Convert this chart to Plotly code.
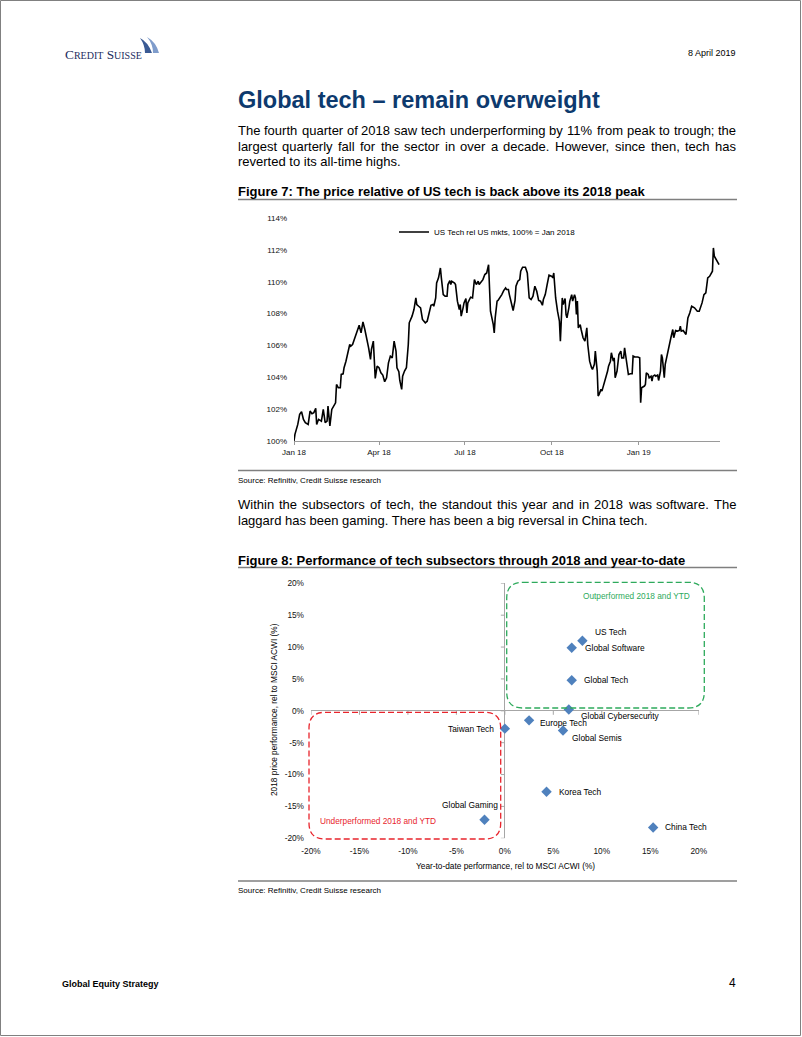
import plotly.graph_objects as go
import pandas as pd

W, H = 802, 1037
FONT = "Liberation Sans, Arial, Helvetica, sans-serif"


def px(x):
    return x / W


def py(y):
    return 1 - y / H


# ------------------------------------------------------------------
# Figure 7 data: US Tech relative to US markets (100% = Jan 2018)
# ------------------------------------------------------------------
fig7_start = "2018-01-01"
fig7_end = "2019-03-28"
days_since_start = [
    0, 1, 4, 6, 8, 10, 12, 15, 17, 19,
    21, 23, 24, 26, 29, 31, 33, 35, 36, 38,
    40, 42, 44, 45, 47, 49, 50, 52, 53, 55,
    57, 59, 60, 62, 65, 67, 69, 71, 72, 73,
    75, 77, 79, 81, 82, 84, 85, 86, 88, 90,
    92, 94, 96, 98, 100, 102, 104, 106, 108, 109,
    111, 112, 114, 115, 117, 119, 121, 122, 125, 127,
    129, 130, 132, 134, 136, 139, 141, 143, 145, 147,
    148, 150, 151, 153, 155, 156, 158, 160, 162, 163,
    165, 166, 167, 170, 171, 173, 175, 176, 177, 179,
    180, 182, 183, 184, 186, 187, 189, 191, 193, 195,
    196, 199, 200, 202, 204, 206, 207, 208, 211, 212,
    213, 215, 216, 218, 220, 222, 224, 225, 227, 228,
    230, 232, 234, 235, 237, 239, 240, 242, 245, 247,
    249, 251, 253, 254, 255, 257, 259, 261, 263, 264,
    266, 268, 270, 273, 274, 275, 277, 279, 281, 282,
    284, 285, 287, 288, 289, 291, 292, 294, 295, 297,
    298, 299, 300, 301, 303, 304, 306, 308, 310, 311,
    313, 315, 316, 318, 319, 321, 322, 323, 325, 326,
    328, 329, 330, 332, 333, 335, 336, 338, 339, 340,
    342, 343, 344, 346, 347, 349, 350, 351, 354, 356,
    358, 359, 361, 364, 366, 367, 368, 371, 372, 373,
    375, 376, 378, 379, 380, 382, 383, 385, 386, 388,
    389, 390, 392, 393, 395, 397, 399, 401, 402, 404,
    406, 408, 409, 410, 412, 415, 417, 419, 421, 424,
    427, 429, 432, 434, 436, 438, 440, 443, 444, 445,
    447, 450,
]
us_tech_rel = [
    100.00, 100.42, 101.04, 101.67, 101.84, 101.36, 101.15, 101.04, 101.88, 101.71,
    101.78, 102.05, 101.04, 101.36, 101.25, 101.98, 101.15, 101.25, 102.19, 100.94,
    101.98, 102.19, 102.40, 103.55, 103.34, 103.34, 104.18, 104.22, 104.60, 105.01,
    105.64, 106.06, 105.95, 106.06, 106.58, 107.00, 107.27, 106.79, 107.31, 107.48,
    107.00, 106.48, 105.85, 105.12, 105.75, 106.27, 105.01, 103.93, 104.70, 104.60,
    104.28, 104.14, 103.72, 103.97, 104.91, 105.33, 105.22, 106.27, 105.64, 104.60,
    104.35, 103.80, 103.24, 104.07, 104.39, 104.60, 106.06, 107.42, 107.84, 108.25,
    108.98, 108.57, 108.46, 108.36, 107.63, 107.42, 107.52, 108.04, 108.52, 108.57,
    108.46, 108.98, 109.92, 110.24, 110.86, 110.24, 109.19, 109.09, 109.09, 109.82,
    110.07, 109.82, 110.03, 109.92, 109.82, 108.78, 108.25, 108.57, 107.84, 108.36,
    108.67, 108.94, 108.04, 108.67, 108.98, 109.03, 108.98, 110.13, 109.82, 110.03,
    109.82, 110.07, 110.13, 110.45, 110.55, 111.07, 109.40, 108.15, 107.31, 106.79,
    107.73, 108.78, 108.82, 108.98, 109.19, 109.44, 109.61, 109.51, 109.51, 109.19,
    108.67, 108.19, 108.82, 109.72, 110.03, 110.13, 110.66, 110.91, 110.91, 110.55,
    108.98, 108.88, 109.09, 109.61, 109.72, 109.40, 108.82, 108.78, 108.52, 108.88,
    109.19, 109.82, 110.41, 110.34, 110.24, 110.55, 108.98, 108.15, 107.52, 106.27,
    108.98, 108.57, 108.94, 107.94, 107.73, 108.36, 108.78, 109.19, 108.78, 109.19,
    108.98, 107.94, 108.78, 107.10, 107.31, 107.00, 106.48, 106.27, 107.10, 106.06,
    105.01, 104.60, 104.49, 104.81, 105.64, 104.39, 102.82, 102.93, 103.24, 103.13,
    103.55, 103.66, 103.87, 104.39, 104.70, 105.01, 105.54, 105.01, 105.22, 103.97,
    104.39, 105.01, 105.43, 105.64, 105.22, 105.22, 105.85, 105.43, 104.18, 104.22,
    104.22, 105.33, 105.27, 105.27, 105.22, 102.40, 103.34, 103.45, 103.55, 104.28,
    104.18, 103.97, 104.07, 103.76, 104.07, 104.14, 104.07, 104.14, 103.80, 104.39,
    105.43, 105.22, 103.97, 104.81, 105.43, 106.06, 106.48, 107.00, 106.48, 106.94,
    106.90, 106.94, 107.21, 106.90, 106.94, 106.69, 107.73, 108.04, 108.46, 108.36,
    108.15, 108.15, 108.67, 109.19, 109.30, 110.24, 110.34, 110.66, 112.12, 111.60,
    111.39, 111.07,
]
assert len(days_since_start) == len(us_tech_rel)
fig7_series_name = "US Tech rel US mkts, 100% = Jan 2018"
fig7_xtick_dates = ["2018-01-01", "2018-04-01", "2018-07-01", "2018-10-01", "2019-01-01"]
fig7_xtick_labels = ["Jan 18", "Apr 18", "Jul 18", "Oct 18", "Jan 19"]
fig7_ytick_vals = [100, 102, 104, 106, 108, 110, 112, 114]
fig7_ytick_labels = ["100%", "102%", "104%", "106%", "108%", "110%", "112%", "114%"]

# ------------------------------------------------------------------
# Figure 8 data: tech subsectors, YTD vs 2018 relative performance (%)
# ------------------------------------------------------------------
subsectors = ["US Tech", "Global Software", "Global Tech", "Global Cybersecurity",
              "Europe Tech", "Global Semis", "Taiwan Tech", "Korea Tech",
              "Global Gaming", "China Tech"]
ytd_rel_perf = [8.0, 6.9, 6.9, 6.6, 2.5, 6.0, 0.0, 4.3, -2.1, 15.3]
perf_2018_rel = [11.0, 9.9, 4.8, 0.2, -1.5, -3.1, -2.8, -12.7, -17.1, -18.3]
fig8_tick_vals = [-20, -15, -10, -5, 0, 5, 10, 15, 20]
fig8_tick_labels = ["-20%", "-15%", "-10%", "-5%", "0%", "5%", "10%", "15%", "20%"]

# label placement (style only): xshift, yshift, xanchor
label_style = {
    "US Tech": (12, 9, "left"),
    "Global Software": (12, 0, "left"),
    "Global Tech": (11, 0, "left"),
    "Global Cybersecurity": (11, -6, "left"),
    "Europe Tech": (10, -3, "left"),
    "Global Semis": (8, -7, "left"),
    "Taiwan Tech": (-10, 0, "right"),
    "Korea Tech": (11, 0, "left"),
    "Global Gaming": (14, 15, "right"),
    "China Tech": (11, 0, "left"),
}

# ------------------------------------------------------------------
# Text helpers (Arial / Liberation Sans advance widths, 1/1000 em)
# ------------------------------------------------------------------
ARIAL = {' ': 278, '!': 278, '%': 889, "'": 191, '(': 333, ')': 333, ',': 278,
         '-': 333, '.': 278, ':': 278, ';': 278, '=': 584,
         'A': 667, 'B': 667, 'C': 722, 'D': 722, 'E': 667, 'F': 611, 'G': 778,
         'H': 722, 'I': 278, 'J': 500, 'K': 667, 'L': 556, 'M': 833, 'N': 722,
         'O': 778, 'P': 667, 'Q': 778, 'R': 722, 'S': 667, 'T': 611, 'U': 722,
         'V': 667, 'W': 944, 'X': 667, 'Y': 667, 'Z': 611,
         'a': 556, 'b': 556, 'c': 500, 'd': 556, 'e': 556, 'f': 278, 'g': 556,
         'h': 556, 'i': 222, 'j': 222, 'k': 500, 'l': 222, 'm': 833, 'n': 556,
         'o': 556, 'p': 556, 'q': 556, 'r': 333, 's': 500, 't': 278, 'u': 556,
         'v': 500, 'w': 722, 'x': 500, 'y': 500, 'z': 500}


def tw(s, size):
    return sum(ARIAL.get(c, 556) for c in s) / 1000.0 * size


annotations = []
shapes = []


def text(x, y, s, size, color="#000000", xanchor="left", bold=False, family=FONT):
    annotations.append(dict(
        xref="paper", yref="paper", x=px(x), y=py(y), text=(f"<b>{s}</b>" if bold else s),
        showarrow=False, xanchor=xanchor, yanchor="middle",
        font=dict(family=family, size=size, color=color),
        borderpad=0, borderwidth=0,
    ))


def justified(line, x0, x1, y, size):
    words = line.split(" ")
    widths = [tw(w, size) for w in words]
    gap = (x1 - x0 - sum(widths)) / (len(words) - 1)
    x = x0
    for w, wd in zip(words, widths):
        text(x, y, w, size)
        x += wd + gap


def hline(x0, x1, y, color="#7f7f7f", width=1.5):
    shapes.append(dict(type="line", xref="paper", yref="paper",
                       x0=px(x0), x1=px(x1), y0=py(y), y1=py(y),
                       line=dict(color=color, width=width)))


def rounded_box(x0, y0, x1, y1, r, color):
    pts = [
        ("M", (x0 + r, y0)), ("L", (x1 - r, y0)), ("Q", (x1, y0), (x1, y0 + r)),
        ("L", (x1, y1 - r)), ("Q", (x1, y1), (x1 - r, y1)), ("L", (x0 + r, y1)),
        ("Q", (x0, y1), (x0, y1 - r)), ("L", (x0, y0 + r)), ("Q", (x0, y0), (x0 + r, y0)),
    ]
    path = ""
    for item in pts:
        cmd = item[0]
        coords = " ".join(f"{px(a):.5f},{py(b):.5f}" for a, b in item[1:])
        path += f"{cmd} {coords} "
    path += "Z"
    shapes.append(dict(type="path", xref="paper", yref="paper", path=path,
                       line=dict(color=color, width=1.3, dash="6px,3px")))


def sail(points, color):
    (ax, ay), (bx, by), (cx, cy), (dx, dy), (ex, ey) = points
    path = (f"M {px(ax)},{py(ay)} Q {px(bx)},{py(by)} {px(cx)},{py(cy)} "
            f"L {px(dx)},{py(dy)} Q {px(ex)},{py(ey)} {px(ax)},{py(ay)} Z")
    shapes.append(dict(type="path", xref="paper", yref="paper", path=path,
                       fillcolor=color, line=dict(width=0)))


# ------------------------------------------------------------------
# Traces
# ------------------------------------------------------------------
fig7_dates = [pd.Timestamp(fig7_start) + pd.Timedelta(days=d) for d in days_since_start]

fig = go.Figure()
fig.add_trace(go.Scatter(
    x=fig7_dates, y=us_tech_rel, mode="lines", name=fig7_series_name,
    line=dict(color="#000000", width=1.6), xaxis="x", yaxis="y", showlegend=True,
    hoverinfo="skip",
))
fig.add_trace(go.Scatter(
    x=ytd_rel_perf, y=perf_2018_rel, mode="markers", text=subsectors,
    marker=dict(symbol="diamond", size=8, color="#4F81BD"),
    xaxis="x2", yaxis="y2", showlegend=False,
))

for name, xv, yv in zip(subsectors, ytd_rel_perf, perf_2018_rel):
    xs, ys, xa = label_style[name]
    annotations.append(dict(
        xref="x2", yref="y2", x=xv, y=yv, text=name, showarrow=False,
        xanchor=xa, yanchor="middle", xshift=xs, yshift=ys,
        font=dict(family=FONT, size=8.4, color="#000000"), borderpad=0,
    ))

# tick marks on the zero axes of figure 8
for v in fig8_tick_vals:
    shapes.append(dict(type="line", xref="x2", yref="y2", xsizemode="pixel", xanchor=0,
                       x0=-4, x1=0, y0=v, y1=v, line=dict(color="#a6a6a6", width=1)))
    shapes.append(dict(type="line", xref="x2", yref="y2", ysizemode="pixel", yanchor=0,
                       y0=0, y1=-4, x0=v, x1=v, line=dict(color="#a6a6a6", width=1)))

# ------------------------------------------------------------------
# Page furniture
# ------------------------------------------------------------------
shapes.append(dict(type="rect", xref="paper", yref="paper", x0=px(0.5), x1=px(800.5),
                   y0=py(1035.5), y1=py(0.5), line=dict(color="#808080", width=1)))

# logo
text(65, 55, "C<span style='font-size:10px'>REDIT</span> S<span style='font-size:10px'>UISSE</span>",
     13.3, color="#1c2d5e", family="Liberation Serif, Times New Roman, serif")
sail([(140, 38), (148, 42), (152, 53), (145, 53), (145, 45)], "#3a5a94")
sail([(147, 37), (156, 42), (159, 53), (153, 53), (153, 44)], "#7f9ccb")

text(735.5, 53, "8 April 2019", 9, xanchor="right")

text(238, 100, "Global tech – remain overweight", 23.5, color="#0d3a6e", bold=True)

para1 = [
    "The fourth quarter of 2018 saw tech underperforming by 11% from peak to trough; the",
    "largest quarterly fall for the sector in over a decade. However, since then, tech has",
]
justified(para1[0], 238, 736, 130, 13)
justified(para1[1], 238, 736, 146, 13)
text(238, 161.5, "reverted to its all-time highs.", 13)

text(238, 192, "Figure 7: The price relative of US tech is back above its 2018 peak", 13, bold=True)
hline(238, 737, 199.5)

hline(238, 737, 470.5)
text(238, 480, "Source: Refinitiv, Credit Suisse research", 8)

justified("Within the subsectors of tech, the standout this year and in 2018 was software. The",
          238, 736, 504, 13)
text(238, 520, "laggard has been gaming. There has been a big reversal in China tech.", 13)

text(238, 560, "Figure 8: Performance of tech subsectors through 2018 and year-to-date", 13, bold=True)
hline(238, 737, 567.5)

# figure 8 boxes and their labels
rounded_box(506.7, 582.3, 704.3, 708, 16, "#2eaa5c")
text(636, 596, "Outperformed 2018 and YTD", 8.3, color="#2eaa5c", xanchor="center")
rounded_box(309, 712.3, 500.7, 839, 16, "#e8242c")
text(320, 820.7, "Underperformed 2018 and YTD", 8.3, color="#e8242c")

# axis titles of figure 8
text(505, 866, "Year-to-date performance, rel to MSCI ACWI (%)", 8.3, xanchor="center")
annotations.append(dict(xref="paper", yref="paper", x=px(274), y=py(710),
                        text="2018 price performance, rel to MSCI ACWI (%)", textangle=-90,
                        showarrow=False, xanchor="center", yanchor="middle",
                        font=dict(family=FONT, size=8.3, color="#000000"), borderpad=0))

hline(238, 737, 881)
text(238, 890, "Source: Refinitiv, Credit Suisse research", 8)

text(62, 984, "Global Equity Strategy", 9, bold=True)
text(736, 983, "4", 12, xanchor="right")

# ------------------------------------------------------------------
# Layout
# ------------------------------------------------------------------
fig.update_layout(
    width=W, height=H, autosize=False,
    margin=dict(l=0, r=0, t=0, b=0, pad=0, autoexpand=False),
    paper_bgcolor="white", plot_bgcolor="white",
    font=dict(family=FONT, color="#000000"),
    showlegend=True,
    legend=dict(x=px(394), y=py(232), xanchor="left", yanchor="middle",
                bgcolor="rgba(0,0,0,0)", borderwidth=0, itemwidth=30,
                font=dict(family=FONT, size=8, color="#000000")),
    xaxis=dict(domain=[px(294), px(720)], range=[fig7_start, fig7_end], type="date",
               tickvals=fig7_xtick_dates, ticktext=fig7_xtick_labels,
               showline=True, linecolor="#9a9a9a", linewidth=1,
               ticks="outside", ticklen=3, tickcolor="#9a9a9a",
               showgrid=False, zeroline=False, anchor="y", automargin=False,
               tickfont=dict(family=FONT, size=8, color="#111111")),
    yaxis=dict(domain=[py(441), py(218)], range=[100, 114],
               tickvals=fig7_ytick_vals, ticktext=fig7_ytick_labels,
               showgrid=False, zeroline=False, showline=False, ticks="",
               ticklabelstandoff=6, anchor="x", automargin=False,
               tickfont=dict(family=FONT, size=8, color="#111111")),
    xaxis2=dict(domain=[px(311), px(698.7)], range=[-20, 20], anchor="y2",
                tickvals=fig8_tick_vals, ticktext=fig8_tick_labels,
                showgrid=False, showline=False, ticks="", automargin=False,
                zeroline=True, zerolinecolor="#a6a6a6", zerolinewidth=1,
                ticklabelstandoff=6,
                tickfont=dict(family=FONT, size=8.3, color="#111111")),
    yaxis2=dict(domain=[py(838.3), py(583.3)], range=[-20, 20], anchor="x2",
                tickvals=fig8_tick_vals, ticktext=fig8_tick_labels,
                showgrid=False, showline=False, ticks="", automargin=False,
                zeroline=True, zerolinecolor="#a6a6a6", zerolinewidth=1,
                ticklabelstandoff=6,
                tickfont=dict(family=FONT, size=8.3, color="#111111")),
    annotations=annotations,
    shapes=shapes,
)

fig.write_html("out.html", config={"displayModeBar": False})
